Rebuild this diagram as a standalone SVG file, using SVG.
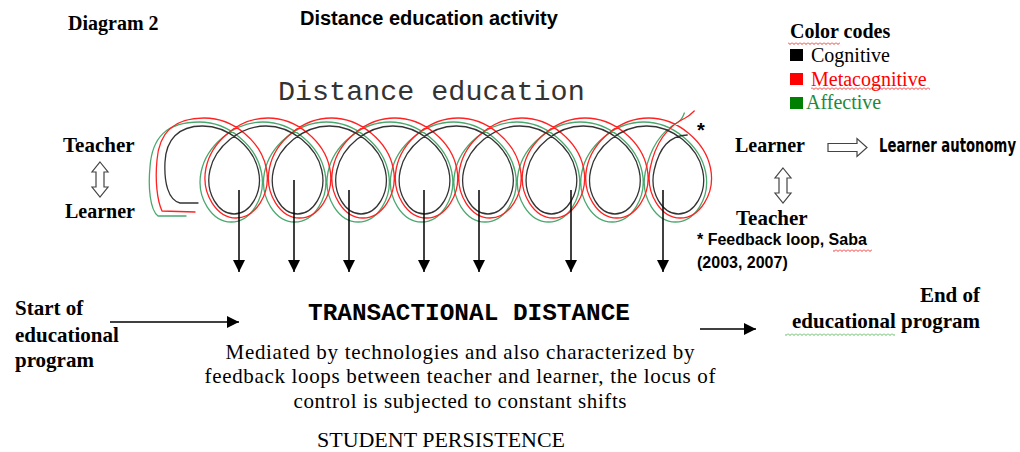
<svg xmlns="http://www.w3.org/2000/svg" width="1020" height="452" viewBox="0 0 1020 452">
<style>
.sb{font-family:"Liberation Serif","Times New Roman",serif;font-weight:bold;fill:#000}
.sr{font-family:"Liberation Serif","Times New Roman",serif;fill:#000}
.ab{font-family:"Liberation Sans",Arial,sans-serif;font-weight:bold;fill:#000}
.mono{font-family:"Liberation Mono","Courier New",monospace}
.loop{fill:none;stroke-width:1.3;stroke-linejoin:round;stroke-linecap:round}
.conn{stroke:#000;stroke-width:1.5;fill:none}
.hollow{fill:#fff;stroke:#444;stroke-width:1.2;stroke-linejoin:miter}
</style>
<defs>
<marker id="ah" viewBox="0 0 10 10" refX="10" refY="5" markerWidth="12" markerHeight="12" markerUnits="userSpaceOnUse" orient="auto"><path d="M0,0 L10,5 L0,10 z" fill="#000"/></marker>
<pattern id="wr" width="4" height="3" patternUnits="userSpaceOnUse"><path d="M0,0.5 L2,2.5 L4,0.5" fill="none" stroke="#e00" stroke-width="0.8"/></pattern>
<pattern id="wg" width="4" height="3" patternUnits="userSpaceOnUse"><path d="M0,0.5 L2,2.5 L4,0.5" fill="none" stroke="#3a3" stroke-width="0.8"/></pattern>
</defs>
<rect width="1020" height="452" fill="#fff"/>

<g id="titles">
<text class="sb" x="68" y="30" font-size="20">Diagram 2</text>
<text class="ab" x="300" y="25" font-size="20">Distance education activity</text>
<text class="mono" x="278" y="100" font-size="28.4" fill="#333">Distance education</text>
</g>

<g id="legend">
<text class="sb" x="790" y="38" font-size="20">Color codes</text>
<rect x="788" y="42" width="52" height="3" fill="url(#wr)"/>
<rect x="790" y="49" width="13" height="12" fill="#000"/>
<text class="sr" x="811" y="62" font-size="20">Cognitive</text>
<rect x="790" y="73" width="13" height="12" fill="#f00"/>
<text class="sr" x="811" y="86" font-size="20" style="fill:#f00">Metacognitive</text>
<rect x="811" y="87" width="119" height="3" fill="url(#wr)"/>
<rect x="790" y="97" width="13" height="12" fill="#008000"/>
<text class="sr" x="806" y="109" font-size="20" style="fill:#1e8a3a">Affective</text>
</g>

<g id="loops">
<path class="loop" stroke="#4aa86e" d="M186,216 L158,216 C150,210 148,187 150,167 C152,138 166,122 199.5,122
c 29.37,0 56.58,23.82 61.87,50 c 5.29,26.18 -11.34,50 -30.14,50 c -18.80,0 -35.43,-23.82 -30.14,-50 c 5.29,-26.18 32.50,-50 61.87,-50
c 29.37,0 56.58,23.82 61.87,50 c 5.29,26.18 -11.34,50 -30.14,50 c -18.80,0 -35.43,-23.82 -30.14,-50 c 5.29,-26.18 32.50,-50 61.87,-50
c 29.37,0 56.58,23.82 61.87,50 c 5.29,26.18 -11.34,50 -30.14,50 c -18.80,0 -35.43,-23.82 -30.14,-50 c 5.29,-26.18 32.50,-50 61.87,-50
c 29.37,0 56.58,23.82 61.87,50 c 5.29,26.18 -11.34,50 -30.14,50 c -18.80,0 -35.43,-23.82 -30.14,-50 c 5.29,-26.18 32.50,-50 61.87,-50
c 29.37,0 56.58,23.82 61.87,50 c 5.29,26.18 -11.34,50 -30.14,50 c -18.80,0 -35.43,-23.82 -30.14,-50 c 5.29,-26.18 32.50,-50 61.87,-50
c 29.37,0 56.58,23.82 61.87,50 c 5.29,26.18 -11.34,50 -30.14,50 c -18.80,0 -35.43,-23.82 -30.14,-50 c 5.29,-26.18 32.50,-50 61.87,-50
c 29.37,0 56.58,23.82 61.87,50 c 5.29,26.18 -11.34,50 -30.14,50 c -18.80,0 -35.43,-23.82 -30.14,-50 c 5.29,-26.18 32.50,-50 61.87,-50
c 29.37,0 56.58,23.82 61.87,50 c 5.29,26.18 -11.34,50 -30.14,50 c -18.80,0 -35.43,-23.82 -30.14,-50
c 5.29,-26.18 18,-42 33,-50 c 3,-2 5,-6 6,-9"/>
<path class="loop" stroke="#f22" d="M195,212 L162,211 C157,200 155,180 157,160 C159,134 172,118 204.4,118
c 29.37,0 56.58,23.82 61.87,50 c 5.29,26.18 -11.34,50 -30.14,50 c -18.80,0 -35.43,-23.82 -30.14,-50 c 5.29,-26.18 32.50,-50 61.87,-50
c 29.37,0 56.58,23.82 61.87,50 c 5.29,26.18 -11.34,50 -30.14,50 c -18.80,0 -35.43,-23.82 -30.14,-50 c 5.29,-26.18 32.50,-50 61.87,-50
c 29.37,0 56.58,23.82 61.87,50 c 5.29,26.18 -11.34,50 -30.14,50 c -18.80,0 -35.43,-23.82 -30.14,-50 c 5.29,-26.18 32.50,-50 61.87,-50
c 29.37,0 56.58,23.82 61.87,50 c 5.29,26.18 -11.34,50 -30.14,50 c -18.80,0 -35.43,-23.82 -30.14,-50 c 5.29,-26.18 32.50,-50 61.87,-50
c 29.37,0 56.58,23.82 61.87,50 c 5.29,26.18 -11.34,50 -30.14,50 c -18.80,0 -35.43,-23.82 -30.14,-50 c 5.29,-26.18 32.50,-50 61.87,-50
c 29.37,0 56.58,23.82 61.87,50 c 5.29,26.18 -11.34,50 -30.14,50 c -18.80,0 -35.43,-23.82 -30.14,-50 c 5.29,-26.18 32.50,-50 61.87,-50
c 29.37,0 56.58,23.82 61.87,50 c 5.29,26.18 -11.34,50 -30.14,50 c -18.80,0 -35.43,-23.82 -30.14,-50 c 5.29,-26.18 32.50,-50 61.87,-50
c 29.37,0 56.58,23.82 61.87,50 c 5.29,26.18 -11.34,50 -30.14,50 c -18.80,0 -35.43,-23.82 -30.14,-50
c 5.29,-26.18 18,-42 35,-50 c 4,-2 7,-5 9,-7"/>
<path class="loop" stroke="#333" d="M198,203 L180,203 C168,200 164,182 165,162 C166,140 178,126 202.4,126
c 26.23,0 50.58,20.96 55.87,44 c 5.29,23.04 -8.48,44 -24.14,44 c -15.66,0 -29.43,-20.96 -24.14,-44 c 5.29,-23.04 29.64,-44 55.87,-44
c 26.23,0 50.58,20.96 55.87,44 c 5.29,23.04 -8.48,44 -24.14,44 c -15.66,0 -29.43,-20.96 -24.14,-44 c 5.29,-23.04 29.64,-44 55.87,-44
c 26.23,0 50.58,20.96 55.87,44 c 5.29,23.04 -8.48,44 -24.14,44 c -15.66,0 -29.43,-20.96 -24.14,-44 c 5.29,-23.04 29.64,-44 55.87,-44
c 26.23,0 50.58,20.96 55.87,44 c 5.29,23.04 -8.48,44 -24.14,44 c -15.66,0 -29.43,-20.96 -24.14,-44 c 5.29,-23.04 29.64,-44 55.87,-44
c 26.23,0 50.58,20.96 55.87,44 c 5.29,23.04 -8.48,44 -24.14,44 c -15.66,0 -29.43,-20.96 -24.14,-44 c 5.29,-23.04 29.64,-44 55.87,-44
c 26.23,0 50.58,20.96 55.87,44 c 5.29,23.04 -8.48,44 -24.14,44 c -15.66,0 -29.43,-20.96 -24.14,-44 c 5.29,-23.04 29.64,-44 55.87,-44
c 26.23,0 50.58,20.96 55.87,44 c 5.29,23.04 -8.48,44 -24.14,44 c -15.66,0 -29.43,-20.96 -24.14,-44 c 5.29,-23.04 29.64,-44 55.87,-44
c 26.23,0 50.58,20.96 55.87,44 c 5.29,23.04 -8.48,44 -24.14,44 c -15.66,0 -29.43,-20.96 -24.14,-44
c 5.29,-23.04 15,-34 33,-35"/>
<text class="ab" x="697" y="137" font-size="20">*</text>
</g>

<g id="node-left-pair">
<text class="sb" x="63" y="152" font-size="21">Teacher</text>
<polygon class="hollow" points="100,162 108,172 104,172 104,187 108,187 100,197 92,187 96,187 96,172 92,172"/>
<text class="sb" x="65" y="218" font-size="20">Learner</text>
</g>

<g id="node-right-pair">
<text class="sb" x="735" y="152" font-size="20">Learner</text>
<polygon class="hollow" points="828,143.5 857,143.5 857,138.5 867,147.5 857,156.5 857,151.5 828,151.5"/>
<text transform="translate(879,152) scale(1,1.4)" x="0" y="0" font-family="'DejaVu Sans Condensed','Liberation Sans',sans-serif" font-weight="bold" font-size="14.5" textLength="137" lengthAdjust="spacingAndGlyphs" fill="#000">Learner autonomy</text>
<polygon class="hollow" points="783,168 791,178 787,178 787,193 791,193 783,203 775,193 779,193 779,178 775,178"/>
<text class="sb" x="736" y="225" font-size="21">Teacher</text>
<text class="ab" x="697" y="245" font-size="16">* Feedback loop, Saba</text>
<rect x="833" y="249" width="39" height="3" fill="url(#wr)"/>
<text class="ab" x="697" y="268" font-size="16">(2003, 2007)</text>
</g>

<g id="node-start">
<text class="sb" x="15" y="315" font-size="21">Start of</text>
<text class="sb" x="15" y="342" font-size="21">educational</text>
<text class="sb" x="15" y="367" font-size="21">program</text>
</g>

<g id="node-center">
<text class="mono" x="308" y="320" font-size="24.4" font-weight="bold" fill="#000">TRANSACTIONAL DISTANCE</text>
<text class="sr" x="460" y="359" font-size="21" text-anchor="middle" textLength="469" lengthAdjust="spacing">Mediated by technologies and also characterized by</text>
<text class="sr" x="460" y="383" font-size="21" text-anchor="middle" textLength="511" lengthAdjust="spacing">feedback loops between teacher and learner, the locus of</text>
<text class="sr" x="460" y="408" font-size="21" text-anchor="middle" textLength="333" lengthAdjust="spacing">control is subjected to constant shifts</text>
<text class="sr" x="317" y="447" font-size="20" textLength="248" lengthAdjust="spacingAndGlyphs">STUDENT PERSISTENCE</text>
</g>

<g id="node-end">
<text class="sb" x="980" y="302" font-size="21" text-anchor="end">End of</text>
<text class="sb" x="980" y="328" font-size="21" text-anchor="end">educational program</text>
<rect x="785" y="333" width="110" height="3" fill="url(#wg)"/>
</g>

<g id="connectors">
<line class="conn" x1="239" y1="190" x2="239" y2="272" marker-end="url(#ah)"/>
<line class="conn" x1="294" y1="180" x2="294" y2="272" marker-end="url(#ah)"/>
<line class="conn" x1="349" y1="190" x2="349" y2="272" marker-end="url(#ah)"/>
<line class="conn" x1="424" y1="190" x2="424" y2="272" marker-end="url(#ah)"/>
<line class="conn" x1="479" y1="190" x2="479" y2="272" marker-end="url(#ah)"/>
<line class="conn" x1="571" y1="190" x2="571" y2="272" marker-end="url(#ah)"/>
<line class="conn" x1="663" y1="190" x2="663" y2="272" marker-end="url(#ah)"/>
<line class="conn" x1="110" y1="322" x2="239" y2="322" marker-end="url(#ah)"/>
<line class="conn" x1="700" y1="329" x2="756" y2="329" marker-end="url(#ah)"/>
</g>
</svg>
